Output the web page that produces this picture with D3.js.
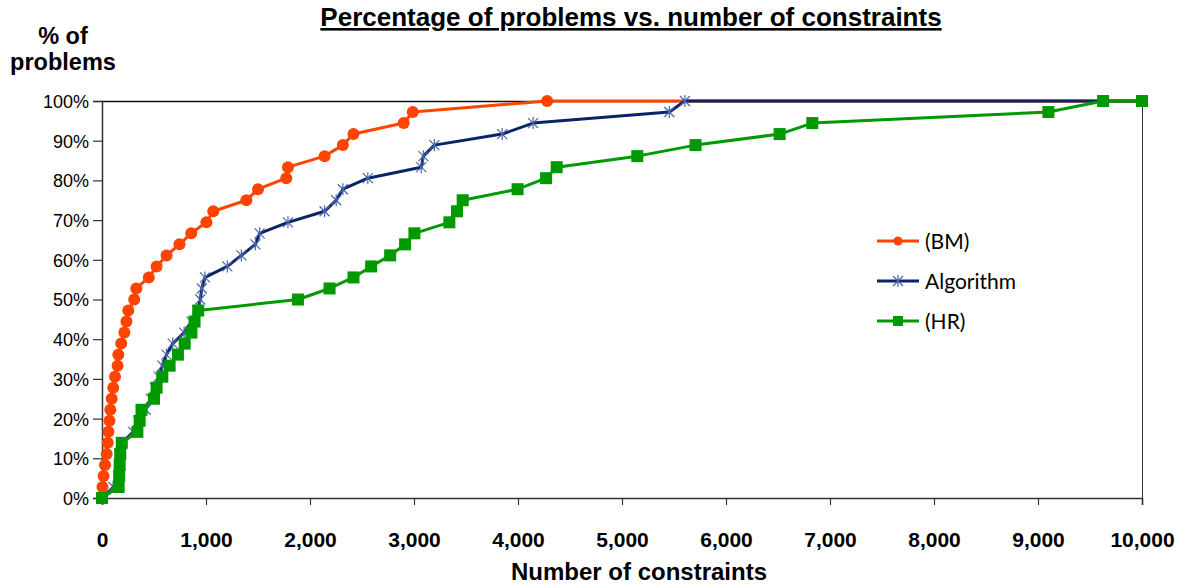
<!DOCTYPE html>
<html><head><meta charset="utf-8">
<script src="https://cdn.jsdelivr.net/npm/d3@7"></script>
<style>
html,body{margin:0;padding:0;background:#fff;}
svg{display:block;}
</style></head>
<body>
<svg id="chart" width="1182" height="584"></svg>
<script>
// Percent of problems solved (36 problems, cumulative steps)
const pctSteps = [0,2.78,5.56,8.33,11.11,13.89,16.67,19.44,22.22,25,27.78,30.56,33.33,36.11,38.89,41.67,44.44,47.22,50,52.78,55.56,58.33,61.11,63.89,66.67,69.44,72.22,75,77.78,80.56,83.33,86.11,88.89,91.67,94.44,97.22,100];
const bmX  = [0,5,15,29,45,55,62,72,80,93,108,125,150,157,185,215,235,253,310,330,450,525,621,745,858,1004,1070,1388,1500,1772,1788,2140,2316,2418,2901,2988,4280];
const algX = [0,110,160,175,185,195,300,350,420,470,510,545,580,620,680,790,860,920,945,960,990,1205,1340,1475,1516,1788,2140,2252,2316,2556,3070,3090,3196,3848,4145,5455,5605];
const hrX  = [0,160,165,170,175,190,340,362,380,500,525,580,650,730,795,860,890,925,1884,2188,2418,2588,2771,2914,3004,3340,3413,3468,3996,4270,4372,5147,5707,6516,6830,9100,9626];
const endX = 10000, endPct = 100;
const seriesNames = ["(BM)","Algorithm","(HR)"];
const xTicks = [0,1000,2000,3000,4000,5000,6000,7000,8000,9000,10000];
const yTicks = [0,10,20,30,40,50,60,70,80,90,100];
const titleText = "Percentage of problems vs. number of constraints";
const xTitle = "Number of constraints";
const yTitle = ["% of","problems"];

const colors = ["#FF4300","#0A2466","#009900"];
const svg = d3.select("#chart");
const L=102, R=1142, T=101, B=498;
const x = d3.scaleLinear().domain([0,10000]).range([L,R]);
const y = d3.scaleLinear().domain([0,100]).range([B,T]);
const sans = "'Liberation Sans', Arial, sans-serif";

function mk(xs){ const d = xs.map((v,i)=>({x:v,y:pctSteps[i]})); d.push({x:endX,y:endPct}); return d; }
const data = [mk(bmX), mk(algX), mk(hrX)];

// plot frame (top and right)
svg.append("line").attr("x1",L).attr("x2",R).attr("y1",T+0.5).attr("y2",T+0.5).attr("stroke","#111").attr("stroke-width",1.5);
svg.append("line").attr("x1",R+0.5).attr("x2",R+0.5).attr("y1",T).attr("y2",B).attr("stroke","#333").attr("stroke-width",1);

// axes
const yAxis = svg.append("g").attr("transform",`translate(${L},0)`)
  .call(d3.axisLeft(y).tickValues(yTicks).tickSize(9).tickPadding(4).tickFormat(d=>d+"%"));
yAxis.select(".domain").attr("stroke","#333").attr("stroke-width",1.5);
yAxis.selectAll(".tick line").attr("stroke","#333").attr("stroke-width",1.2);
yAxis.selectAll("text").attr("font-family",sans).attr("font-size",18).attr("fill","#000").attr("dy","0.36em");

const xAxis = svg.append("g").attr("transform",`translate(0,${B})`)
  .call(d3.axisBottom(x).tickValues(xTicks).tickSize(7).tickPadding(27).tickFormat(d3.format(",")));
xAxis.select(".domain").attr("stroke","#333").attr("stroke-width",1.5);
xAxis.selectAll(".tick line").attr("stroke","#333").attr("stroke-width",1.2);
xAxis.selectAll("text").attr("font-family",sans).attr("font-weight","bold").attr("font-size",21).attr("fill","#000");

// lines
const line = d3.line().x(d=>x(d.x)).y(d=>y(d.y));
function star(g, cx, cy, s){
  const gg = g.append("g").attr("transform",`translate(${cx},${cy})`);
  [[-s,-s,s,s],[-s,s,s,-s],[0,-s*1.2,0,s*1.2]].forEach(a=>{
    gg.append("line").attr("x1",a[0]).attr("y1",a[1]).attr("x2",a[2]).attr("y2",a[3]).attr("stroke","#4a66a8").attr("stroke-width",1.2);
  });
}
function marker(g, i, cx, cy, legend){
  if(i===0) g.append("circle").attr("cx",cx).attr("cy",cy).attr("r",legend?4.5:6).attr("fill",colors[0]);
  else if(i===1) star(g,cx,cy,5);
  else { const s = legend?10:12; g.append("rect").attr("x",cx-s/2).attr("y",cy-s/2).attr("width",s).attr("height",s).attr("fill",colors[2]); }
}
data.forEach((d,i)=>{
  const g = svg.append("g");
  g.append("path").datum(d).attr("d",line).attr("fill","none").attr("stroke",colors[i]).attr("stroke-width",3).attr("stroke-linejoin","round");
  const mg = g.append("g");
  d.forEach(p=>marker(mg,i,x(p.x),y(p.y),false));
});

// legend
const legY = [241,281,321];
seriesNames.forEach((n,i)=>{
  const g = svg.append("g");
  g.append("line").attr("x1",877).attr("x2",919).attr("y1",legY[i]).attr("y2",legY[i]).attr("stroke",colors[i]).attr("stroke-width",3);
  marker(g,i,898,legY[i],true);
  g.append("text").attr("x",925).attr("y",legY[i]).attr("dy","0.36em").attr("font-family","Lato, 'Open Sans', sans-serif").attr("font-size",21).attr("fill","#000").text(n);
});

// titles
svg.append("text").attr("x",631).attr("y",26).attr("text-anchor","middle")
  .attr("font-family",sans).attr("font-weight","bold").attr("font-size",26)
  .attr("text-decoration","underline").text(titleText);
svg.append("text").attr("x",639).attr("y",580).attr("text-anchor","middle")
  .attr("font-family",sans).attr("font-weight","bold").attr("font-size",24).text(xTitle);
yTitle.forEach((t,i)=>{
  svg.append("text").attr("x",63).attr("y",44+i*26).attr("text-anchor","middle")
    .attr("font-family",sans).attr("font-weight","bold").attr("font-size",23.5).text(t);
});
</script>
</body></html>
